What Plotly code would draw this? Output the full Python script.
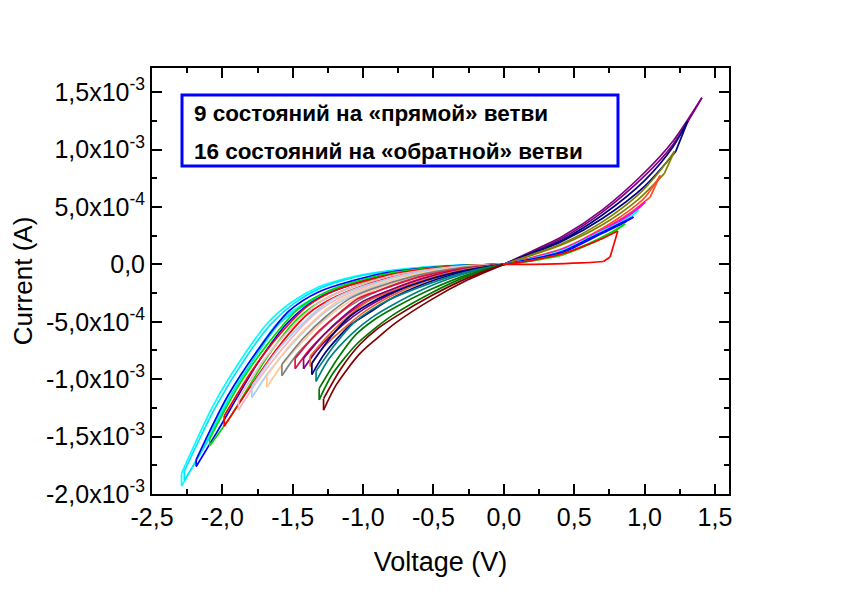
import plotly.graph_objects as go

# ---------------- reverse ("обратная") branch: 16 loops, voltage in V, current in mA ----------------
REV_COLORS = ["#00FFFF", "#00E5FF", "#0000FF", "#00DD00", "#FF0000", "#F4B6C2", "#A9CFF2", "#FFC99A",
              "#808080", "#E8103C", "#800080", "#E8642C", "#000080", "#008080", "#007800", "#800000"]

# forward sweep (upper branch, 0 -> Vmin)
REV_UP_V = [
    [0, -0.458, -0.845, -1.08, -1.317, -1.506, -1.672, -1.832, -2.061, -2.29],
    [0, -0.454, -0.84, -1.07, -1.30, -1.49, -1.655, -1.816, -2.043, -2.27],
    [0, -0.437, -0.874, -1.312, -1.530, -1.749, -1.967, -2.186],
    [0, -0.418, -0.836, -1.254, -1.463, -1.672, -1.881, -2.09],
    [0, -0.397, -0.795, -1.192, -1.391, -1.590, -1.788, -1.987],
    [0, -0.377, -0.754, -1.131, -1.320, -1.508, -1.697, -1.885],
    [0, -0.358, -0.716, -1.074, -1.253, -1.432, -1.611, -1.79],
    [0, -0.337, -0.674, -1.010, -1.179, -1.347, -1.516, -1.684],
    [0, -0.315, -0.631, -0.946, -1.104, -1.262, -1.419, -1.577],
    [0, -0.297, -0.593, -0.890, -1.038, -1.186, -1.335, -1.483],
    [0, -0.285, -0.569, -0.854, -0.996, -1.138, -1.281, -1.423],
    [0, -0.275, -0.551, -0.826, -0.963, -1.101, -1.238, -1.376],
    [0, -0.273, -0.546, -0.818, -0.955, -1.091, -1.228, -1.364],
    [0, -0.267, -0.534, -0.800, -0.934, -1.067, -1.201, -1.334],
    [0, -0.262, -0.525, -0.787, -0.918, -1.050, -1.181, -1.312],
    [0, -0.256, -0.512, -0.769, -0.897, -1.025, -1.153, -1.281],
]
REV_UP_I = [
    [0, -0.016, -0.061, -0.111, -0.198, -0.328, -0.502, -0.764, -1.219, -1.82],
    [0, -0.018, -0.064, -0.115, -0.205, -0.34, -0.52, -0.78, -1.23, -1.80],
    [0, -0.019, -0.082, -0.238, -0.41, -0.748, -1.156, -1.70],
    [0, -0.020, -0.084, -0.236, -0.39, -0.684, -1.049, -1.52],
    [0, -0.021, -0.086, -0.224, -0.36, -0.607, -0.924, -1.32],
    [0, -0.023, -0.088, -0.222, -0.34, -0.550, -0.819, -1.17],
    [0, -0.027, -0.095, -0.223, -0.33, -0.519, -0.753, -1.06],
    [0, -0.029, -0.097, -0.223, -0.32, -0.485, -0.698, -0.97],
    [0, -0.030, -0.100, -0.218, -0.305, -0.452, -0.635, -0.87],
    [0, -0.037, -0.107, -0.230, -0.30, -0.443, -0.607, -0.82],
    [0, -0.041, -0.123, -0.246, -0.32, -0.451, -0.615, -0.82],
    [0, -0.044, -0.128, -0.248, -0.32, -0.448, -0.608, -0.80],
    [0, -0.053, -0.136, -0.257, -0.34, -0.45, -0.63, -0.86],
    [0, -0.068, -0.170, -0.300, -0.39, -0.51, -0.70, -0.93],
    [0, -0.092, -0.222, -0.385, -0.48, -0.61, -0.82, -1.08],
    [0, -0.118, -0.272, -0.455, -0.56, -0.70, -0.90, -1.17],
]
# return sweep (lower branch, Vmin -> 0)
REV_LO_V = [
    [-2.29, -2.13, -1.95, -1.832, -1.60, -1.374, -1.08, -0.8, -0.458, 0],
    [-2.27, -2.11, -1.93, -1.816, -1.59, -1.362, -1.07, -0.79, -0.454, 0],
    [-2.186, -2.033, -1.749, -1.530, -1.312, -0.874, -0.437, 0],
    [-2.09, -1.944, -1.672, -1.463, -1.254, -0.836, -0.418, 0],
    [-1.987, -1.848, -1.590, -1.391, -1.192, -0.795, -0.397, 0],
    [-1.885, -1.753, -1.508, -1.320, -1.131, -0.754, -0.377, 0],
    [-1.79, -1.665, -1.432, -1.253, -1.074, -0.716, -0.358, 0],
    [-1.684, -1.566, -1.347, -1.179, -1.010, -0.674, -0.337, 0],
    [-1.577, -1.467, -1.262, -1.104, -0.946, -0.631, -0.315, 0],
    [-1.483, -1.379, -1.186, -1.038, -0.890, -0.593, -0.297, 0],
    [-1.423, -1.323, -1.138, -0.996, -0.854, -0.569, -0.285, 0],
    [-1.376, -1.280, -1.101, -0.963, -0.826, -0.551, -0.275, 0],
    [-1.364, -1.269, -1.091, -0.955, -0.818, -0.546, -0.273, 0],
    [-1.334, -1.241, -1.067, -0.934, -0.800, -0.534, -0.267, 0],
    [-1.312, -1.220, -1.050, -0.918, -0.787, -0.525, -0.262, 0],
    [-1.281, -1.191, -1.025, -0.897, -0.769, -0.512, -0.256, 0],
]
REV_LO_I = [
    [-1.93, -1.58, -1.13, -0.90, -0.50, -0.31, -0.15, -0.075, -0.020, 0],
    [-1.88, -1.55, -1.12, -0.90, -0.51, -0.32, -0.155, -0.078, -0.021, 0],
    [-1.76, -1.45, -0.86, -0.50, -0.29, -0.100, -0.023, 0],
    [-1.58, -1.33, -0.79, -0.47, -0.29, -0.100, -0.024, 0],
    [-1.41, -1.15, -0.70, -0.43, -0.28, -0.105, -0.026, 0],
    [-1.27, -1.02, -0.64, -0.41, -0.27, -0.105, -0.028, 0],
    [-1.16, -0.93, -0.60, -0.40, -0.27, -0.110, -0.032, 0],
    [-1.07, -0.86, -0.57, -0.39, -0.27, -0.115, -0.034, 0],
    [-0.97, -0.78, -0.53, -0.37, -0.26, -0.118, -0.036, 0],
    [-0.91, -0.74, -0.51, -0.37, -0.27, -0.125, -0.043, 0],
    [-0.91, -0.74, -0.52, -0.39, -0.29, -0.140, -0.048, 0],
    [-0.89, -0.72, -0.52, -0.39, -0.29, -0.145, -0.050, 0],
    [-0.96, -0.77, -0.53, -0.42, -0.31, -0.160, -0.060, 0],
    [-1.02, -0.82, -0.59, -0.46, -0.36, -0.195, -0.078, 0],
    [-1.18, -0.96, -0.70, -0.56, -0.44, -0.255, -0.105, 0],
    [-1.27, -1.05, -0.78, -0.64, -0.51, -0.305, -0.135, 0],
]

# ---------------- forward ("прямая") branch: 9 loops ----------------
FWD_COLORS = ["#800080", "#000080", "#808000", "#FF4A26", "#FF00FF", "#00FFFF", "#0000FF", "#00DD00", "#FF0000"]
FWD_SW_V = [
    [0, 0.2, 0.412, 0.7, 1.0, 1.2, 1.407],
    [0, 0.2, 0.412, 0.7, 1.0, 1.22, 1.307],
    [0, 0.2, 0.412, 0.7, 0.95, 1.14, 1.213],
    [0, 0.2, 0.412, 0.7, 0.9, 1.04, 1.111],
    [0, 0.2, 0.412, 0.7, 0.9, 1.004],
    [0, 0.2, 0.412, 0.7, 0.85, 0.957],
    [0, 0.2, 0.412, 0.7, 0.85, 0.921],
    [0, 0.2, 0.412, 0.6, 0.75, 0.862],
    [0, 0.3, 0.55, 0.708, 0.755, 0.81],
]
FWD_SW_I = [
    [0, 0.105, 0.225, 0.455, 0.77, 1.04, 1.451],
    [0, 0.095, 0.200, 0.400, 0.68, 0.98, 1.247],
    [0, 0.080, 0.170, 0.345, 0.56, 0.79, 0.986],
    [0, 0.055, 0.125, 0.300, 0.45, 0.586, 0.775],
    [0, 0.050, 0.120, 0.290, 0.43, 0.542],
    [0, 0.045, 0.110, 0.280, 0.37, 0.47],
    [0, 0.040, 0.100, 0.270, 0.36, 0.412],
    [0, 0.030, 0.080, 0.170, 0.26, 0.354],
    [0, 0.002, 0.012, 0.025, 0.064, 0.29],
]
# indices where the forward sweep has a sharp knee
FWD_KNEES = [[], [5], [5], [5], [], [], [], [], [3, 4]]
FWD_RT_V = [
    [1.407, 1.2, 1.0, 0.7, 0.412, 0.2, 0],
    [1.307, 1.2, 1.0, 0.7, 0.412, 0.2, 0],
    [1.213, 1.1, 0.95, 0.7, 0.412, 0.2, 0],
    [1.111, 1.0, 0.8, 0.6, 0.412, 0.2, 0],
    [1.004, 0.9, 0.7, 0.412, 0.2, 0],
    [0.957, 0.85, 0.7, 0.412, 0.2, 0],
    [0.921, 0.8, 0.6, 0.412, 0.2, 0],
    [0.862, 0.75, 0.6, 0.412, 0.2, 0],
    [0.81, 0.7, 0.55, 0.412, 0.2, 0],
]
FWD_RT_I = [
    [1.451, 1.07, 0.80, 0.475, 0.240, 0.115, 0],
    [1.247, 1.02, 0.73, 0.430, 0.210, 0.100, 0],
    [0.986, 0.80, 0.60, 0.370, 0.180, 0.085, 0],
    [0.775, 0.58, 0.39, 0.245, 0.135, 0.060, 0],
    [0.542, 0.44, 0.30, 0.130, 0.055, 0],
    [0.47, 0.38, 0.29, 0.120, 0.050, 0],
    [0.412, 0.34, 0.22, 0.110, 0.045, 0],
    [0.354, 0.27, 0.18, 0.090, 0.035, 0],
    [0.29, 0.225, 0.15, 0.090, 0.035, 0],
]

X_TICKS = [-2.5, -2.0, -1.5, -1.0, -0.5, 0.0, 0.5, 1.0, 1.5]
X_LABELS = ["-2,5", "-2,0", "-1,5", "-1,0", "-0,5", "0,0", "0,5", "1,0", "1,5"]
Y_TICKS = [-2.0e-3, -1.5e-3, -1.0e-3, -5.0e-4, 0.0, 5.0e-4, 1.0e-3, 1.5e-3]
Y_LABELS = ["-2,0x10<sup>-3</sup>", "-1,5x10<sup>-3</sup>", "-1,0x10<sup>-3</sup>", "-5,0x10<sup>-4</sup>",
            "0,0", "5,0x10<sup>-4</sup>", "1,0x10<sup>-3</sup>", "1,5x10<sup>-3</sup>"]
BOX_LINES = ["9 состояний на «прямой» ветви", "16 состояний на «обратной» ветви"]

MA = 1e-3  # mA -> A


def join_pieces(pieces):
    xs, ys = [], []
    for k, (pv, pi) in enumerate(pieces):
        if k:
            xs.append(None)
            ys.append(None)
        xs += list(pv)
        ys += [v * MA for v in pi]
    return xs, ys


fig = go.Figure()
LW = 1.7

for c, uv, ui, lv, li in zip(REV_COLORS, REV_UP_V, REV_UP_I, REV_LO_V, REV_LO_I):
    pieces = [(uv, ui), ([uv[-1], lv[0]], [ui[-1], li[0]]), (lv, li)]
    xs, ys = join_pieces(pieces)
    fig.add_trace(go.Scatter(x=xs, y=ys, mode="lines", line=dict(color=c, width=LW, shape="spline", smoothing=0.8),
                             connectgaps=False, showlegend=False, hoverinfo="skip"))

for c, sv, si, kn, rv, ri in zip(FWD_COLORS, FWD_SW_V, FWD_SW_I, FWD_KNEES, FWD_RT_V, FWD_RT_I):
    cuts = [0] + kn + [len(sv) - 1]
    pieces = [(sv[a:b + 1], si[a:b + 1]) for a, b in zip(cuts[:-1], cuts[1:])]
    pieces.append((rv, ri))
    xs, ys = join_pieces(pieces)
    fig.add_trace(go.Scatter(x=xs, y=ys, mode="lines", line=dict(color=c, width=LW, shape="spline", smoothing=0.8),
                             connectgaps=False, showlegend=False, hoverinfo="skip"))

FONT = "Liberation Sans, Arial, sans-serif"
axis_common = dict(showline=True, linecolor="black", linewidth=2, mirror="ticks", ticks="inside",
                   ticklen=10, tickwidth=2, tickcolor="black", showgrid=False, zeroline=False,
                   automargin=False, tickfont=dict(family=FONT, size=25, color="black"))

fig.update_xaxes(range=[-2.5, 1.6], tickmode="array", tickvals=X_TICKS, ticktext=X_LABELS,
                 minor=dict(dtick=0.25, tick0=0, ticks="inside", ticklen=5, tickwidth=2, tickcolor="black"),
                 title=dict(text="Voltage (V)", font=dict(family=FONT, size=27, color="black"), standoff=22),
                 **axis_common)
fig.update_yaxes(range=[-2.0e-3, 1.71e-3], tickmode="array", tickvals=Y_TICKS, ticktext=Y_LABELS,
                 minor=dict(dtick=2.5e-4, tick0=0, ticks="inside", ticklen=5, tickwidth=2, tickcolor="black"),
                 title=dict(text="Current (A)", font=dict(family=FONT, size=26, color="black"), standoff=12),
                 **axis_common)

fig.add_shape(type="rect", xref="paper", yref="paper", x0=0.052, x1=0.8076, y0=0.770, y1=0.9366,
              line=dict(color="#0000FF", width=3), fillcolor="white", layer="above")
for txt, yy in zip(BOX_LINES, [0.894, 0.803]):
    fig.add_annotation(text="<b>" + txt + "</b>", xref="paper", yref="paper", x=0.069, y=yy,
                       xanchor="left", yanchor="middle", showarrow=False,
                       font=dict(family=FONT, size=22.5, color="black"))

fig.update_layout(width=847, height=594, margin=dict(l=144, r=126, t=60, b=108, autoexpand=False),
                  plot_bgcolor="white", paper_bgcolor="white", font=dict(family=FONT, color="black"))

fig.write_html("out.html")
